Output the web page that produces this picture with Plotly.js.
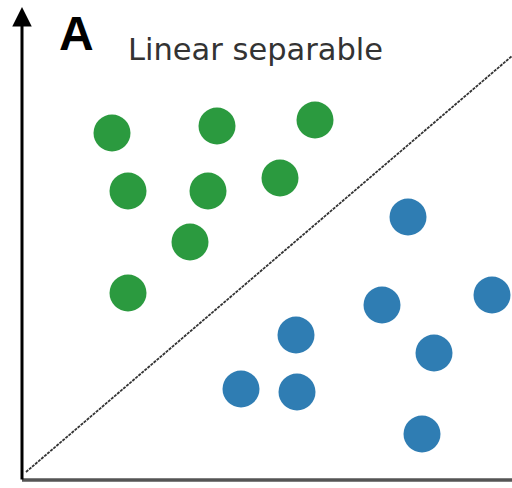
<!DOCTYPE html>
<html>
<head>
<meta charset="utf-8">
<script src="https://cdn.plot.ly/plotly-3.0.1.min.js"></script>
<style>html,body{margin:0;padding:0;background:#fff;}#chart{width:512px;height:488px;}</style>
</head>
<body>
<div id="chart"></div>
<script>
// Class A (green, above the boundary)
const greenX = [90, 195, 293, 106, 186, 258, 168, 106];
const greenY = [347, 354, 360, 289, 289, 302, 238, 187];
// Class B (blue, below the boundary)
const blueX = [386, 470, 360, 274, 412, 219, 275, 400];
const blueY = [263, 185, 175, 145, 127, 91, 88, 46];
// Separating line
const lineX = [4, 490];
const lineY = [8, 424];
const panelLabel = "A";
const titleText = "Linear separable";

const traces = [
  {x: lineX, y: lineY, mode: 'lines', type: 'scatter',
   line: {color: '#333', width: 1.8, dash: '3px,1px'}, hoverinfo: 'skip'},
  {x: greenX, y: greenY, mode: 'markers', type: 'scatter',
   marker: {color: '#2b9a3f', size: 37, line: {width: 0}}},
  {x: blueX, y: blueY, mode: 'markers', type: 'scatter',
   marker: {color: '#2f7db3', size: 37, line: {width: 0}}}
];

const layout = {
  width: 512, height: 488,
  margin: {l: 22, r: 0, t: 8, b: 8},
  paper_bgcolor: '#fff', plot_bgcolor: '#fff',
  showlegend: false,
  xaxis: {range: [0, 490], visible: false, fixedrange: true},
  yaxis: {range: [0, 472], visible: false, fixedrange: true},
  shapes: [
    {type: 'line', xref: 'paper', yref: 'paper', x0: 0, x1: 1, y0: 0, y1: 0,
     line: {color: '#555', width: 3.5}}
  ],
  annotations: [
    {xref: 'paper', yref: 'paper', x: 0, y: 1.002, ax: 0, ay: 474,
     axref: 'pixel', ayref: 'pixel', showarrow: true, arrowhead: 2,
     arrowsize: 1.3, arrowwidth: 3, arrowcolor: '#000', text: ''},
    {xref: 'x', yref: 'y', x: 54, y: 447, text: '<b>' + panelLabel + '</b>',
     showarrow: false, xanchor: 'center', yanchor: 'middle',
     font: {family: 'Liberation Sans, Arial, sans-serif', size: 48, color: '#000'}},
    {xref: 'x', yref: 'y', x: 233.5, y: 431, text: titleText,
     showarrow: false, xanchor: 'center', yanchor: 'middle',
     font: {family: 'DejaVu Sans, sans-serif', size: 30.5, color: '#333'}}
  ]
};

Plotly.newPlot('chart', traces, layout, {staticPlot: true, displayModeBar: false});
</script>
</body>
</html>
